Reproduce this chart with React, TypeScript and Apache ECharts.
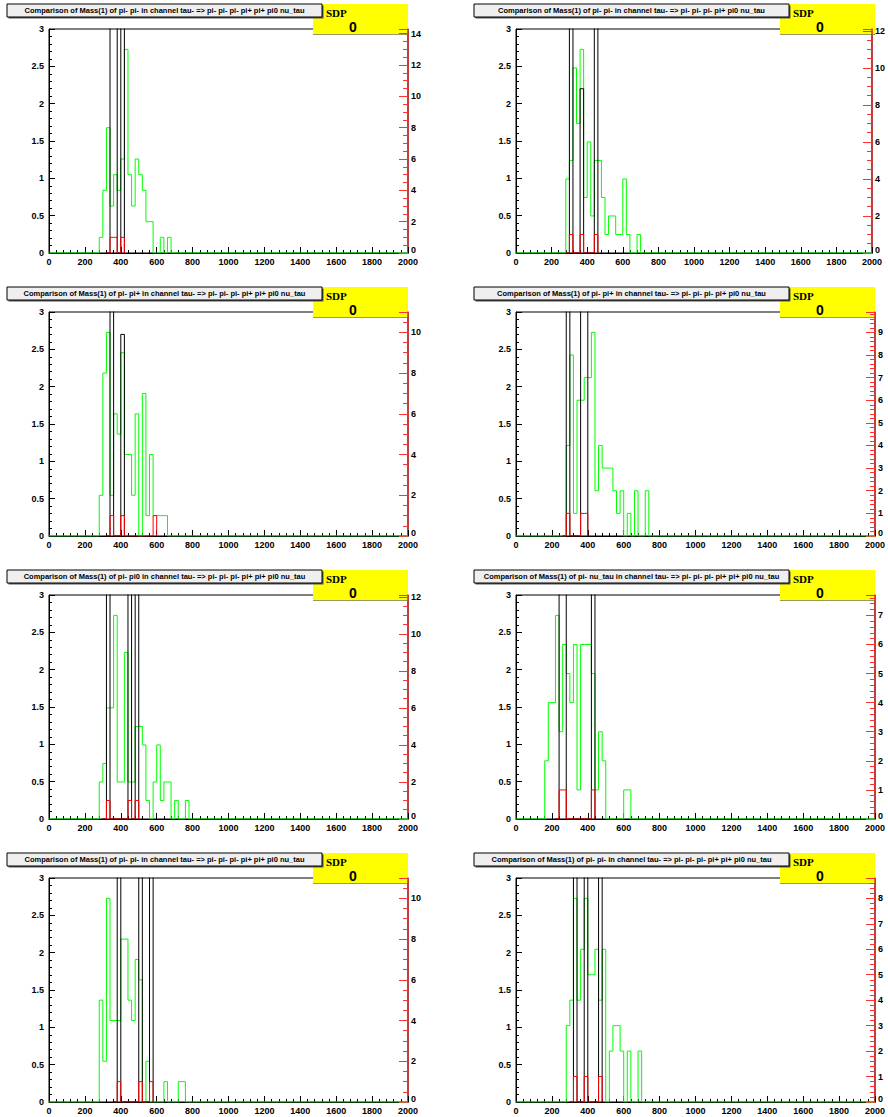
import React, { useEffect, useRef } from "react";
import * as echarts from "echarts";

// ---------------- data (bin width 20 MeV, 100 bins from 0 to 2000) ----------------
const titles = [
  "Comparison of Mass(1) of pi- pi- in channel tau- => pi- pi- pi- pi+ pi+ pi0 nu_tau",
  "Comparison of Mass(1) of pi- pi- in channel tau- => pi- pi- pi- pi+ pi0 nu_tau",
  "Comparison of Mass(1) of pi- pi+ in channel tau- => pi- pi- pi- pi+ pi+ pi0 nu_tau",
  "Comparison of Mass(1) of pi- pi+ in channel tau- => pi- pi- pi- pi+ pi0 nu_tau",
  "Comparison of Mass(1) of pi- pi0 in channel tau- => pi- pi- pi- pi+ pi+ pi0 nu_tau",
  "Comparison of Mass(1) of pi- nu_tau in channel tau- => pi- pi- pi- pi+ pi+ pi0 nu_tau",
  "Comparison of Mass(1) of pi- pi- in channel tau- => pi- pi- pi- pi+ pi+ pi0 nu_tau",
  "Comparison of Mass(1) of pi- pi- in channel tau- => pi- pi- pi- pi+ pi+ pi0 nu_tau",
];
const sdpLabel = "SDP";
const sdpValues = ["0", "0", "0", "0", "0", "0", "0", "0"];

// green histogram (right axis), first bin index + counts
const green1Start = 14;
const green1 = [1, 4, 8, 3, 5, 4, 6, 13, 5, 3, 6, 5, 4, 2, 2, 0, 0, 1, 0, 1];
const green2Start = 14;
const green2 = [4, 5, 10, 7, 11, 3, 6, 2, 5, 5, 3, 1, 2, 2, 1, 1, 4, 1, 0, 0, 1];
const green3Start = 14;
const green3 = [2, 8, 10, 2, 6, 5, 9, 4, 4, 2, 6, 0, 7, 1, 4, 1, 1, 1, 1];
const green4Start = 14;
const green4 = [4, 8, 1, 6, 6, 7, 7, 9, 2, 4, 3, 3, 3, 2, 1, 2, 0, 1, 0, 2, 0, 0, 2];
const green5Start = 14;
const green5 = [2, 3, 6, 6, 11, 2, 2, 9, 2, 2, 5, 5, 4, 1, 0, 2, 4, 1, 2, 2, 0, 1, 0, 0, 1];
const green6Start = 8;
const green6 = [2, 4, 4, 7, 3, 6, 5, 4, 6, 1, 6, 6, 6, 5, 1, 3, 2, 0, 0, 0, 0, 0, 1, 1];
const green7Start = 14;
const green7 = [5, 2, 10, 4, 4, 4, 8, 8, 5, 4, 7, 6, 0, 2, 0, 0, 0, 0, 1, 0, 0, 0, 1, 1];
const green8Start = 14;
const green8 = [3, 4, 8, 4, 6, 8, 5, 5, 6, 4, 6, 0, 2, 3, 3, 2, 0, 2, 0, 0, 2];

// black histogram (left axis 0-3, values above 3 run off the frame)
const black1Start = 17;
const black1 = [4, 4, 0, 4];
const black2Start = 15;
const black2 = [4, 0, 0, 2.2, 0, 0, 0, 4];
const black3Start = 17;
const black3 = [4, 0, 0, 2.7];
const black4Start = 14;
const black4 = [4, 0, 0, 0, 4, 4];
const black5Start = 16;
const black5 = [4, 0, 0, 0, 0, 0, 4, 0, 4];
const black6Start = 12;
const black6 = [4, 4, 0, 0, 0, 0, 0, 0, 0, 4];
const black7Start = 19;
const black7 = [4, 0, 0, 0, 0, 0, 4, 0, 0, 4];
const black8Start = 16;
const black8 = [4, 0, 0, 4, 0, 0, 0, 4];

// red histogram (right axis)
const red1Start = 17;
const red1 = [1, 1, 0, 1];
const red2Start = 15;
const red2 = [1, 0, 0, 1, 0, 0, 0, 1];
const red3Start = 17;
const red3 = [1, 0, 0, 1, 0, 0, 0, 0, 0, 0, 0, 0, 1];
const red4Start = 14;
const red4 = [1, 0, 0, 0, 1, 1];
const red5Start = 16;
const red5 = [1, 0, 0, 0, 0, 0, 1, 0, 1];
const red6Start = 12;
const red6 = [1, 1, 0, 0, 0, 0, 0, 0, 0, 1];
const red7Start = 19;
const red7 = [1, 0, 0, 0, 0, 0, 1, 0, 0, 1];
const red8Start = 16;
const red8 = [1, 0, 0, 1, 0, 0, 0, 1];

// axes
const xMin = 0;
const xMax = 2000;
const xStep = 200;
const binWidth = 20;
const leftMax = 3;
const leftStep = 0.5;
const rightAxisMax = [14.3, 12.1, 11, 9.9, 12.1, 7.7, 11, 8.8];
const rightAxisStep = [2, 2, 2, 1, 2, 1, 2, 1];
const rightMinorSplit = [4, 4, 4, 5, 4, 5, 4, 5];

const greens = [
  [green1Start, green1], [green2Start, green2], [green3Start, green3], [green4Start, green4],
  [green5Start, green5], [green6Start, green6], [green7Start, green7], [green8Start, green8],
] as [number, number[]][];
const blacks = [
  [black1Start, black1], [black2Start, black2], [black3Start, black3], [black4Start, black4],
  [black5Start, black5], [black6Start, black6], [black7Start, black7], [black8Start, black8],
] as [number, number[]][];
const reds = [
  [red1Start, red1], [red2Start, red2], [red3Start, red3], [red4Start, red4],
  [red5Start, red5], [red6Start, red6], [red7Start, red7], [red8Start, red8],
] as [number, number[]][];

// ---------------- layout ----------------
const colLeft = [49, 516];
const colWidth = [359, 360];
const rowTop = [29, 312, 595, 878];
const plotHeight = 224;
const FONT = "'Liberation Sans', Arial, Helvetica, sans-serif";

function fullHist(start: number, vals: number[]) {
  const nBins = (xMax - xMin) / binWidth;
  const pts: number[][] = [];
  for (let k = 0; k < nBins; k++) {
    const v = k >= start && k < start + vals.length ? vals[k - start] : 0;
    pts.push([xMin + k * binWidth, v]);
  }
  pts.push([xMax, 0]);
  return pts;
}
function partHist(start: number, vals: number[]) {
  const pts: number[][] = [[(start - 1) * binWidth, 0]];
  vals.forEach((v, i) => pts.push([(start + i) * binWidth, v]));
  pts.push([(start + vals.length) * binWidth, 0]);
  return pts;
}

function buildOption() {
  const grid: any[] = [];
  const xAxis: any[] = [];
  const yAxis: any[] = [];
  const series: any[] = [];
  const graphic: any[] = [];
  const labelStyle = { fontFamily: FONT, fontWeight: "bold", fontSize: 9, color: "#000" };
  const plain = (v: number) => String(v);
  // right-axis zero label sits a little higher so that it clears the "2000" below it
  const rightFmt = (v: number) => (v === 0 ? "{z|0}" : String(v));

  for (let i = 0; i < 8; i++) {
    const col = i % 2;
    const row = Math.floor(i / 2);
    const left = colLeft[col];
    const top = rowTop[row];
    grid.push({
      left, top, width: colWidth[col], height: plotHeight,
      show: true, borderColor: "#000", borderWidth: 1, backgroundColor: "transparent",
    });
    xAxis.push({
      gridIndex: i, type: "value", min: xMin, max: xMax, interval: xStep,
      axisLine: { show: true, onZero: false, lineStyle: { color: "#000", width: 1 } },
      axisTick: { show: true, inside: true, length: 6, lineStyle: { color: "#000" } },
      minorTick: { show: true, splitNumber: 5, length: 3, lineStyle: { color: "#000" } },
      axisLabel: { ...labelStyle, margin: 4, formatter: plain },
      splitLine: { show: false },
    });
    yAxis.push({
      gridIndex: i, type: "value", position: "left", min: 0, max: leftMax, interval: leftStep,
      axisLine: { show: true, onZero: false, lineStyle: { color: "#000", width: 1 } },
      axisTick: { show: true, inside: true, length: 6, lineStyle: { color: "#000" } },
      minorTick: { show: true, splitNumber: 5, length: 3, lineStyle: { color: "#000" } },
      axisLabel: { ...labelStyle, margin: 5, formatter: plain },
      splitLine: { show: false },
    });
    yAxis.push({
      gridIndex: i, type: "value", position: "right", min: 0, max: rightAxisMax[i], interval: rightAxisStep[i],
      axisLine: { show: true, onZero: false, lineStyle: { color: "#d42a2a", width: 1.5 } },
      axisTick: { show: true, inside: true, length: 9, lineStyle: { color: "#ff3030" } },
      minorTick: { show: true, splitNumber: rightMinorSplit[i], length: 5, lineStyle: { color: "#ff3030" } },
      axisLabel: {
        ...labelStyle, margin: 3, showMaxLabel: false, formatter: rightFmt,
        rich: { z: { fontFamily: FONT, fontWeight: "bold", fontSize: 9, color: "#000", padding: [0, 0, 7, 0] } },
      },
      splitLine: { show: false },
    });

    const common = { type: "line", xAxisIndex: i, step: "end", symbol: "none", silent: true, clip: true };
    series.push({ ...common, yAxisIndex: 2 * i + 1, data: fullHist(greens[i][0], greens[i][1]),
      lineStyle: { color: "#00ff00", width: 1 }, itemStyle: { color: "#00ff00" } });
    series.push({ ...common, yAxisIndex: 2 * i, data: partHist(blacks[i][0], blacks[i][1]),
      lineStyle: { color: "#000", width: 1 }, itemStyle: { color: "#000" } });
    series.push({ ...common, yAxisIndex: 2 * i + 1, data: partHist(reds[i][0], reds[i][1]),
      lineStyle: { color: "#ff0000", width: 1 }, itemStyle: { color: "#ff0000" } });

    // boxes
    const ox = left - 49;
    const oy = top - 29;
    graphic.push({
      type: "group", x: ox, y: oy, children: [
        { type: "rect", shape: { x: 313, y: 5, width: 95, height: 30 }, style: { fill: "#9a9a60" } },
        { type: "rect", shape: { x: 313, y: 4, width: 95, height: 30 }, style: { fill: "#ffff00" } },
        { type: "text", style: { text: sdpLabel, x: 326, y: 13, fill: "#000",
          font: "bold 11px 'Liberation Serif', 'Times New Roman', serif", align: "left", verticalAlign: "middle",
          textAlign: "left", textVerticalAlign: "middle" } },
        { type: "text", style: { text: sdpValues[i], x: 353, y: 27, fill: "#000",
          font: "bold 14px " + FONT, align: "center", verticalAlign: "middle",
          textAlign: "center", textVerticalAlign: "middle" } },
        { type: "rect", shape: { x: 8.5, y: 5.5, width: 315, height: 13 }, style: { fill: "#555" } },
        { type: "rect", shape: { x: 7, y: 4, width: 315, height: 13 }, style: { fill: "#efefef", stroke: "#000", lineWidth: 1 } },
        { type: "text", style: { text: titles[i], x: 164.5, y: 10.7, fill: "#000",
          font: "bold 7.5px " + FONT, align: "center", verticalAlign: "middle",
          textAlign: "center", textVerticalAlign: "middle" } },
      ],
    });
  }
  return { animation: false, backgroundColor: "#fff", grid, xAxis, yAxis, series, graphic };
}

export default function App() {
  const ref = useRef<HTMLDivElement>(null);
  useEffect(() => {
    if (!ref.current) return;
    const chart = echarts.init(ref.current, null, { renderer: "svg" });
    chart.setOption(buildOption() as any);
    return () => chart.dispose();
  }, []);
  return <div ref={ref} style={{ position: "absolute", left: 0, top: 0, width: 888, height: 1117 }} />;
}
